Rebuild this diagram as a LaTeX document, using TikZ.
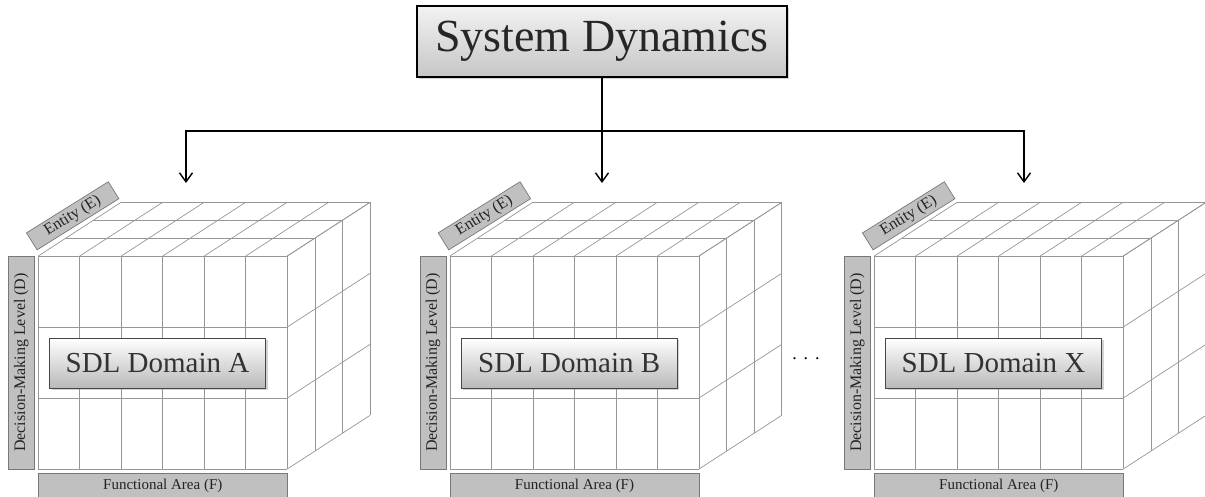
\documentclass[tikz,border=0pt]{standalone}
\usepackage{fontspec}
\setmainfont{Liberation Serif}
\usetikzlibrary{arrows.meta,shadows}
\definecolor{gridgray}{RGB}{150,150,150}
\definecolor{tagfill}{RGB}{192,192,192}
\definecolor{tagedge}{RGB}{120,120,120}
\definecolor{tagtext}{RGB}{35,35,35}
\definecolor{boxedge}{RGB}{70,70,70}
\definecolor{boxlow}{RGB}{185,185,185}
\definecolor{titletop}{RGB}{242,242,242}
\definecolor{titlelow}{RGB}{198,198,198}
\begin{document}
\begin{tikzpicture}[x=1pt,y=-1pt,
  cubeline/.style={draw=gridgray,line width=0.7pt},
  tagfont/.style={text=tagtext,font=\fontsize{16}{18}\selectfont},
  tag/.style={draw=tagedge,fill=tagfill,line width=0.7pt,tagfont,inner sep=0pt,outer sep=0pt},
  titlebox/.style={draw=black,line width=1.5pt,top color=titletop,bottom color=titlelow,
    minimum width=370pt,minimum height=71pt,inner sep=0pt,text=black!85,
    font=\fontsize{46}{50}\selectfont,
    drop shadow={shadow xshift=2pt,shadow yshift=-2pt,opacity=0.35}},
  domainbox/.style={draw=boxedge,line width=1.2pt,top color=white,bottom color=boxlow,
    minimum width=216pt,minimum height=50pt,inner sep=0pt,text=black!80,
    font=\fontsize{29}{32}\selectfont,
    drop shadow={shadow xshift=2pt,shadow yshift=-2pt,opacity=0.35}},
  link/.style={line width=1.4pt,line join=miter},
  feed/.style={link,-{Straight Barb[length=9pt,width=13pt]}}
]
\useasboundingbox (0,0) rectangle (1205,497);

% title and distribution connectors
\node[titlebox] (sd) at (602,41.5) {System Dynamics};
\coordinate (hubL) at (186,131);
\coordinate (hubR) at (1024,131);
\coordinate (hubM) at (sd.south |- hubL);
\coordinate (inA) at (186,183);
\coordinate (inB) at (hubM |- inA);
\coordinate (inX) at (1024,183);
\draw[link] (sd.south) -- (hubM);
\draw[feed] (hubM) -- (hubL) -- (inA);
\draw[feed] (hubM) -- (hubR) -- (inX);
\draw[feed] (hubM) -- (inB);

% three SDL cubes: front face 6 x 3 cells, depth of 3 layers
\foreach \ox/\n in {38.3/A, 450/B, 874.3/X}{
  \begin{scope}[shift={(\ox,256)}]
    \foreach \i in {0,...,6}{
      \draw[cubeline] (\i*41.5,0) -- (\i*41.5,213);
      \draw[cubeline] (\i*41.5,0) -- ++(82.8,-53.7);
    }
    \foreach \j in {0,...,3}{
      \draw[cubeline] (0,\j*71) -- (249,\j*71);
      \draw[cubeline] (249,\j*71) -- ++(82.8,-53.7);
    }
    \foreach \k in {1,2,3}{
      \draw[cubeline] (\k*27.6,-\k*17.9) -- ++(249,0);
      \draw[cubeline] (249+\k*27.6,-\k*17.9) -- ++(0,213);
    }
    \node[tag,rotate=32,minimum width=96.5pt,minimum height=20pt] (ent\n) at (34.4,-40.2) {Entity (E)};
    \node[tag,minimum width=26pt,minimum height=213pt] (dec\n) at (-17,106.5) {};
    \node[rotate=90,tagfont,inner sep=0pt] at (dec\n.center) {Decision-Making Level (D)};
    \node[tag,font=\fontsize{15}{17}\selectfont,minimum width=249pt,minimum height=26.3pt] (fun\n) at (124.5,230) {Functional Area (F)};
    \node[domainbox] (dom\n) at (119.2,107.3) {SDL Domain \n};
  \end{scope}
}

\node[anchor=base,inner sep=0pt,font=\fontsize{18}{20}\selectfont] (gap) at (806,359) {.\hspace{7pt}.\hspace{7pt}.};
\end{tikzpicture}
\end{document}
